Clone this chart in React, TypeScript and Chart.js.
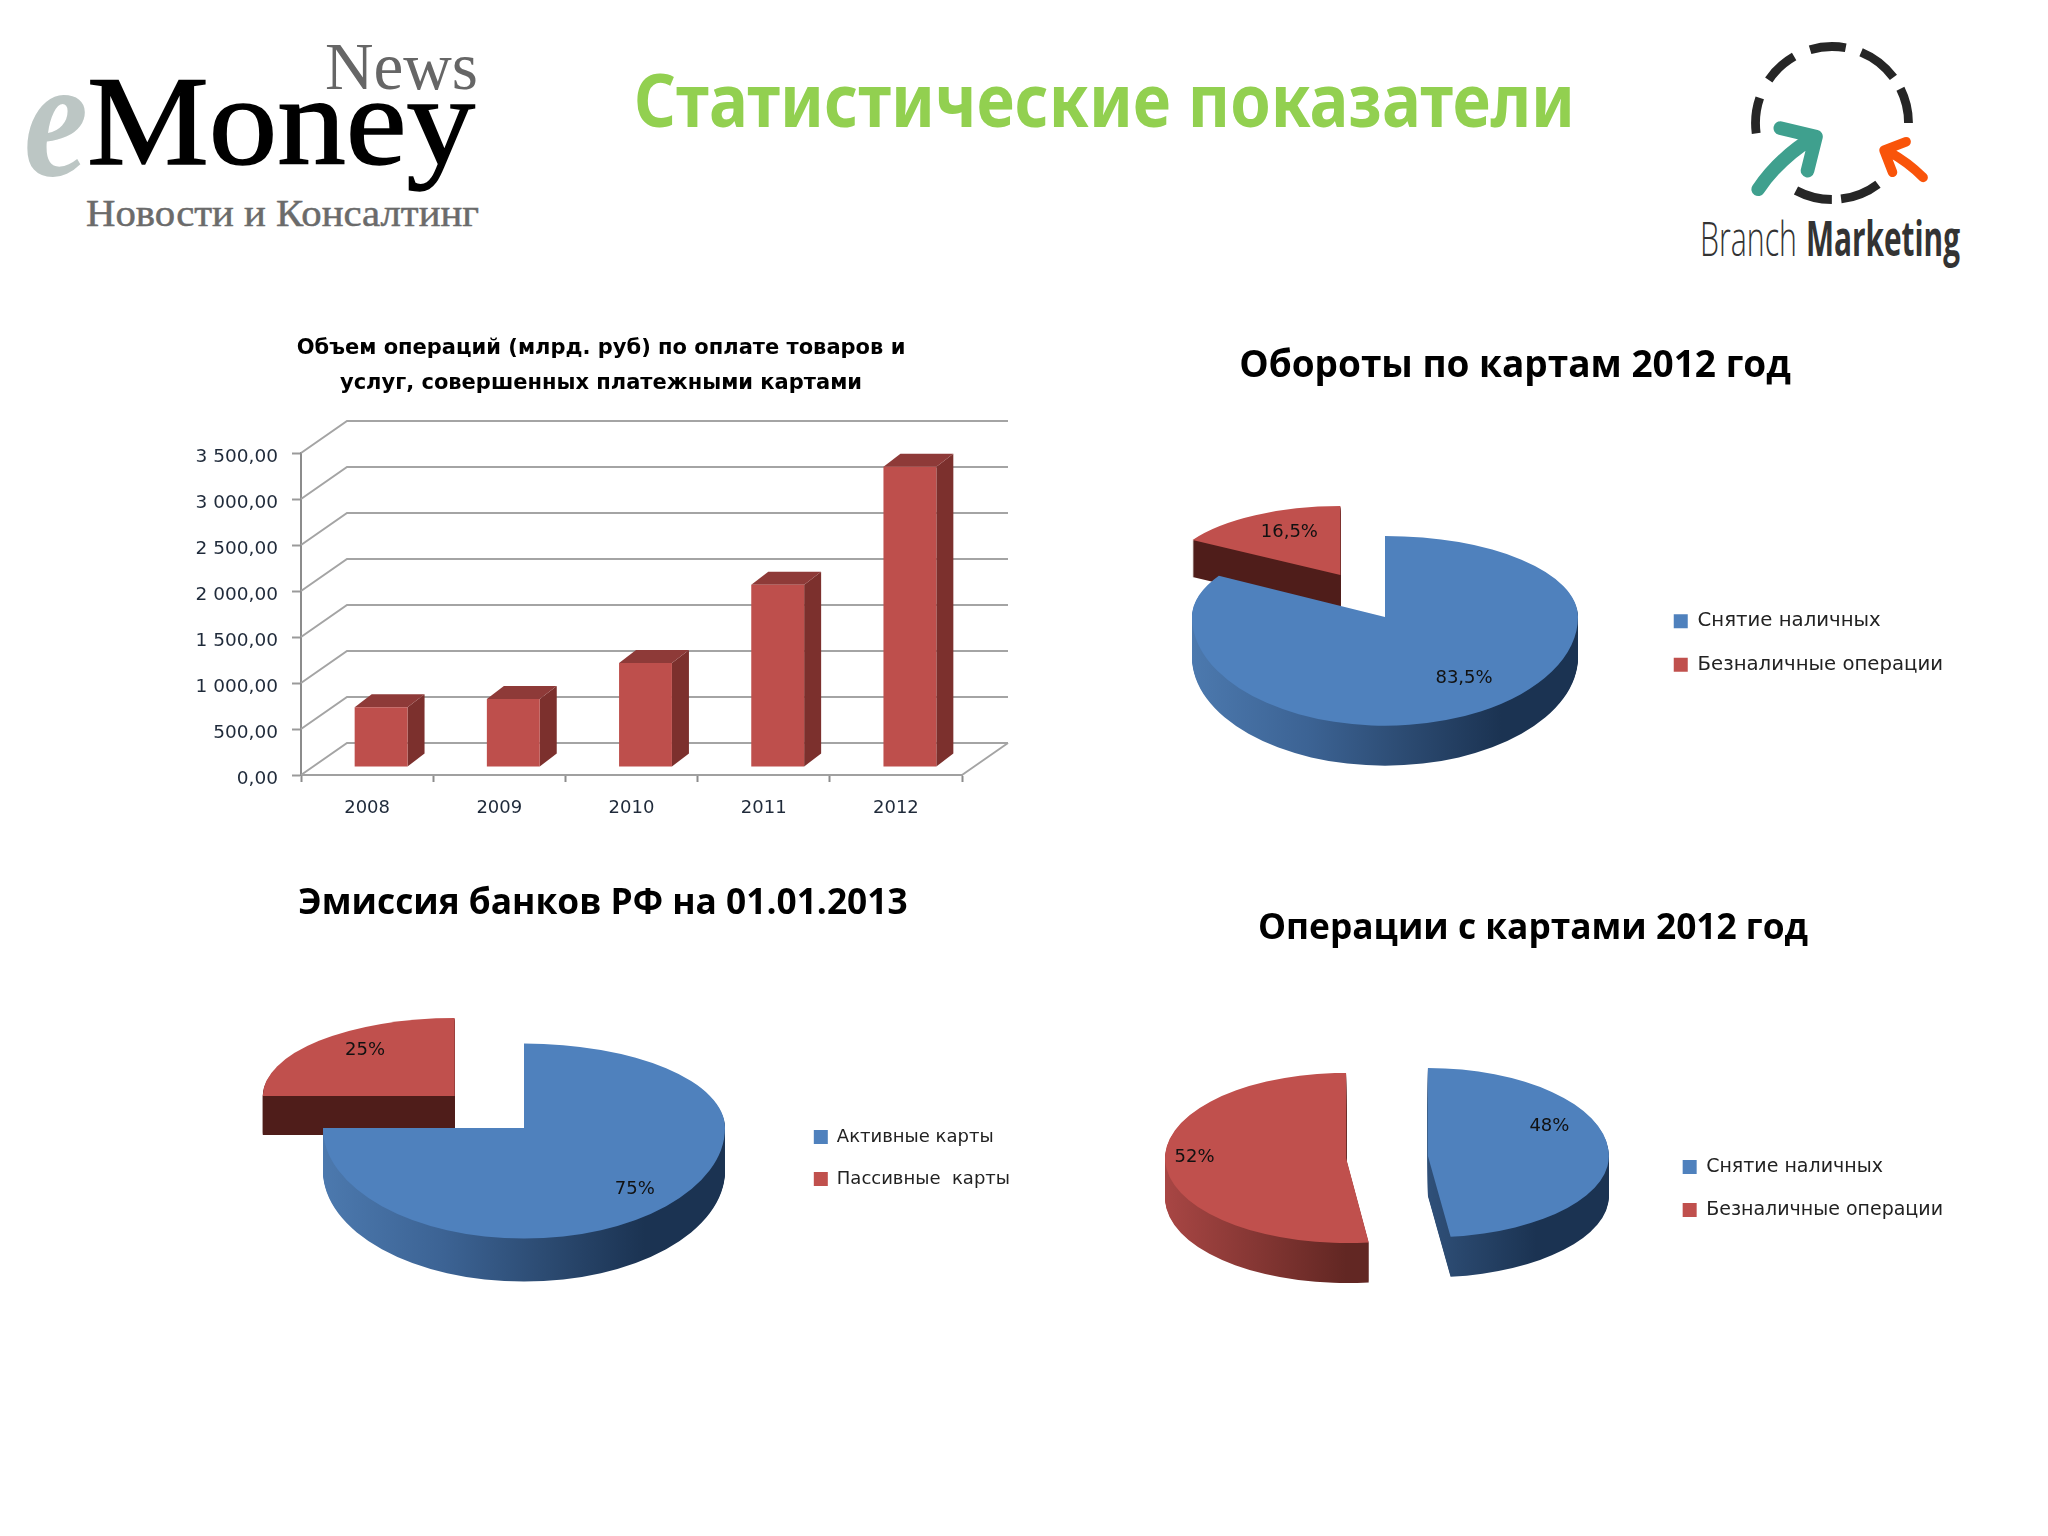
import { useEffect, useRef } from "react";
import { Chart, registerables } from "chart.js";

Chart.register(...registerables);

const BLUE = "#4F81BD";
const RED = "#C0504D";

const years = ["2008", "2009", "2010", "2011", "2012"];
const volumes = [650, 740, 1130, 1980, 3265];

const turnoverLabels = ["Снятие наличных", "Безналичные операции"];
const turnoverValues = [83.5, 16.5];

const emissionLabels = ["Активные карты", "Пассивные  карты"];
const emissionValues = [75, 25];

const operationLabels = ["Снятие наличных", "Безналичные операции"];
const operationValues = [48, 52];

const blueWall = [
  [0, "#4C79AE"],
  [0.3, "#3C6394"],
  [0.55, "#2C4B72"],
  [0.8, "#1B3352"],
  [1, "#1B3352"],
];
const darkRedWall = [
  [0, "#4F1D1A"],
  [1, "#4F1D1A"],
];
const redWall = [
  [0, "#A84644"],
  [0.5, "#622723"],
  [1, "#622723"],
];

const pctText = (v: number) => String(v).replace(".", ",") + "%";

// fake 3d for the pies: squash the arcs (back half flatter than the front, for
// perspective) and stack copies below them as a wall
function makePie3d(cfg: any) {
  const place = (chart: any, i: number) => {
    const el = chart.getDatasetMeta(0).data[i];
    const { x, y, startAngle, endAngle, outerRadius } = el.getProps(
      ["x", "y", "startAngle", "endAngle", "outerRadius"],
      true
    );
    const mid = (startAngle + endAngle) / 2;
    const s = cfg.slices[i];
    const off = s.explode || 0;
    return {
      el,
      x,
      y,
      mid,
      startAngle,
      endAngle,
      r: outerRadius,
      s,
      px: cfg.cx + Math.cos(mid) * off,
      py: Math.round(cfg.cy + Math.sin(mid) * off * cfg.k + (s.lift || 0)),
    };
  };
  const paint = (chart: any, p: any, down: number, fn: () => void) => {
    const ctx = chart.ctx;
    const split = p.py + down;
    [
      { k: p.s.back, top: 0, h: split },
      { k: p.s.front, top: split, h: chart.height - split },
    ].forEach((part) => {
      ctx.save();
      ctx.beginPath();
      ctx.rect(0, part.top, chart.width, part.h);
      ctx.clip();
      ctx.translate(p.px, split);
      ctx.scale(p.s.sx || 1, part.k);
      ctx.translate(-p.x, -p.y);
      fn();
      ctx.restore();
    });
  };
  return {
    id: "pie3d",
    beforeDatasetDraw(chart: any) {
      const ctx = chart.ctx;
      for (const i of cfg.order) {
        const p = place(chart, i);
        const grad = ctx.createLinearGradient(p.x - p.r, 0, p.x + p.r, 0);
        p.s.wall.forEach(([at, c]: any) => grad.addColorStop(at, c));
        for (let d = p.s.depth; d > 0; d--) {
          paint(chart, p, d, () => {
            ctx.beginPath();
            ctx.moveTo(p.x, p.y);
            ctx.arc(p.x, p.y, p.r, p.startAngle, p.endAngle);
            ctx.closePath();
            ctx.fillStyle = grad;
            ctx.fill();
          });
        }
        paint(chart, p, 0, () => p.el.draw(ctx));
      }
      return false;
    },
    afterDatasetsDraw(chart: any) {
      const ctx = chart.ctx;
      const values = chart.data.datasets[0].data;
      ctx.save();
      ctx.font = "18px 'DejaVu Sans'";
      ctx.fillStyle = "#111";
      ctx.textAlign = "center";
      ctx.textBaseline = "middle";
      values.forEach((v: number, i: number) => {
        const p = place(chart, i);
        const rr = p.r * p.s.label;
        const nudge = p.s.nudge || [0, 0];
        const sy = Math.sin(p.mid);
        ctx.fillText(
          pctText(v),
          p.px + Math.cos(p.mid) * rr * (p.s.sx || 1) + nudge[0],
          p.py + sy * rr * (sy < 0 ? p.s.back : p.s.front) + nudge[1]
        );
      });
      ctx.restore();
    },
  };
}

function pieConfig(title: string, titleSize: number, labels: string[], values: number[], radius: number, legendSize: number, plugin: any) {
  return {
    type: "pie",
    data: {
      labels,
      datasets: [
        {
          data: values,
          backgroundColor: [BLUE, RED],
          borderWidth: 0,
        },
      ],
    },
    options: {
      responsive: false,
      animation: false,
      radius,
      plugins: {
        title: {
          display: true,
          text: title,
          color: "#000",
          font: { family: "'Open Sans'", size: titleSize, weight: "bold", lineHeight: 1.4 },
          padding: { top: 0, bottom: 6 },
        },
        legend: {
          position: "right",
          labels: {
            boxWidth: 14,
            boxHeight: 14,
            padding: 24,
            color: "#222",
            font: { family: "'DejaVu Sans'", size: legendSize },
          },
        },
        tooltip: { enabled: false },
      },
    },
    plugins: [plugin],
  };
}

const DX = 46;
const DY = -32;
const BAR_DX = 14;
const BAR_DY = -8;
const SIDE_DX = 17;
const SIDE_DY = -13;

// back wall, floor and bar sides for the column chart
const bar3d = {
  id: "bar3d",
  afterLayout(chart: any) {
    // the axis box is narrow so the title centres right; labels are clipped to it otherwise
    chart.scales.y.left = 0;
  },
  beforeDatasetsDraw(chart: any) {
    const { ctx, chartArea, scales } = chart;
    ctx.save();
    ctx.strokeStyle = "#A4A4A4";
    ctx.lineWidth = 2;
    for (const t of scales.y.ticks) {
      const y = scales.y.getPixelForValue(t.value);
      ctx.beginPath();
      ctx.moveTo(chartArea.left, y);
      ctx.lineTo(chartArea.left + DX, y + DY);
      ctx.lineTo(chartArea.right + DX, y + DY);
      ctx.stroke();
    }
    ctx.beginPath();
    ctx.moveTo(chartArea.right, chartArea.bottom);
    ctx.lineTo(chartArea.right + DX, chartArea.bottom + DY);
    ctx.stroke();
    ctx.restore();
  },
  beforeDatasetDraw(chart: any) {
    const ctx = chart.ctx;
    chart.getDatasetMeta(0).data.forEach((bar: any) => {
      const { x, y, base, width } = bar.getProps(["x", "y", "base", "width"], true);
      const l = x - width / 2;
      const r = x + width / 2;
      ctx.save();
      ctx.translate(BAR_DX, BAR_DY);
      ctx.fillStyle = "#7C302D";
      ctx.beginPath();
      ctx.moveTo(r, y);
      ctx.lineTo(r + SIDE_DX, y + SIDE_DY);
      ctx.lineTo(r + SIDE_DX, base + SIDE_DY);
      ctx.lineTo(r, base);
      ctx.closePath();
      ctx.fill();
      ctx.fillStyle = "#8E3A38";
      ctx.beginPath();
      ctx.moveTo(l, y);
      ctx.lineTo(l + SIDE_DX, y + SIDE_DY);
      ctx.lineTo(r + SIDE_DX, y + SIDE_DY);
      ctx.lineTo(r, y);
      ctx.closePath();
      ctx.fill();
      bar.draw(ctx);
      ctx.restore();
    });
    return false;
  },
};

const barConfig = {
  type: "bar",
  data: {
    labels: years,
    datasets: [
      {
        data: volumes,
        backgroundColor: "#BE4F4C",
        barPercentage: 0.4,
        categoryPercentage: 1,
      },
    ],
  },
  options: {
    responsive: false,
    animation: false,
    layout: { padding: { left: 80, right: 84 } },
    plugins: {
      legend: { display: false },
      tooltip: { enabled: false },
      title: {
        display: true,
        text: [
          "Объем операций (млрд. руб) по оплате товаров и",
          "услуг, совершенных платежными картами",
        ],
        color: "#000",
        font: { family: "'DejaVu Sans'", size: 21, weight: "bold", lineHeight: 1.667 },
        padding: { top: 0, bottom: 52 },
      },
    },
    scales: {
      x: {
        afterFit: (s: any) => {
          s.height = 50;
        },
        grid: { drawOnChartArea: false, tickLength: 7, tickColor: "#8C8C8C", tickWidth: 2 },
        border: { color: "#A0A0A0", width: 2 },
        ticks: { color: "#1F2A3A", padding: 16, font: { family: "'DejaVu Sans'", size: 18 } },
      },
      y: {
        min: 0,
        max: 3500,
        afterFit: (s: any) => {
          s.width = 61;
        },
        grid: { drawOnChartArea: false, tickLength: 9, tickColor: "#9A9A9A", tickWidth: 2 },
        border: { color: "#8C8C8C", width: 2 },
        ticks: {
          stepSize: 500,
          color: "#1F2A3A",
          padding: 14,
          font: { family: "'DejaVu Sans'", size: 18.5, lineHeight: 0.4 },
          // empty first line drops the label a little below its tick, like in the source
          callback: (v: any) => ["", String(v).replace(/\B(?=(\d{3})+$)/g, " ") + ",00"],
        },
      },
    },
  },
  plugins: [bar3d],
};

const turnoverBox = { left: 1077, top: 341, width: 876, height: 604 };
const emissionBox = { left: 186, top: 879, width: 834, height: 558 };
const operationBox = { left: 1113, top: 904, width: 840, height: 569 };

const turnoverPie = pieConfig(
  "Обороты по картам 2012 год",
  37,
  turnoverLabels,
  turnoverValues,
  193,
  19.7,
  makePie3d({
    cx: 1385 - turnoverBox.left,
    cy: 617 - turnoverBox.top,
    k: 0.495,
    order: [1, 0],
    slices: [
      { wall: blueWall, depth: 40, back: 0.42, front: 0.563, label: 0.68, nudge: [14, -3] },
      { wall: darkRedWall, depth: 37, back: 0.357, front: 0.357, explode: 90, sx: 0.89, label: 0.6, lift: -3, nudge: [0, -7] },
    ],
  })
);

const emissionPie = pieConfig(
  "Эмиссия банков РФ на 01.01.2013",
  35.3,
  emissionLabels,
  emissionValues,
  201,
  18,
  makePie3d({
    cx: 524 - emissionBox.left,
    cy: 1128 - emissionBox.top,
    k: 0.488,
    order: [1, 0],
    slices: [
      { wall: blueWall, depth: 43, back: 0.42, front: 0.55, label: 0.78 },
      { wall: darkRedWall, depth: 39, back: 0.388, front: 0.388, explode: 98, sx: 0.955, label: 0.66, lift: 2, nudge: [0, -9] },
    ],
  })
);

const operationPie = pieConfig(
  "Операции с картами 2012 год",
  35.3,
  operationLabels,
  operationValues,
  181,
  19,
  makePie3d({
    cx: 1387 - operationBox.left,
    cy: 1157 - operationBox.top,
    k: 0.47,
    order: [1, 0],
    slices: [
      { wall: blueWall, depth: 40, back: 0.486, front: 0.45, explode: 41, label: 0.75, nudge: [-14, -26] },
      { wall: redWall, depth: 40, back: 0.47, front: 0.47, explode: 41, label: 0.8, nudge: [-7, -5] },
    ],
  })
);

function ChartBox({ config, left, top, width, height }: any) {
  const canvasRef = useRef<HTMLCanvasElement | null>(null);

  useEffect(() => {
    if (!canvasRef.current) return;
    const chart = new Chart(canvasRef.current, config);
    return () => chart.destroy();
  }, [config]);

  return (
    <canvas
      ref={canvasRef}
      width={width}
      height={height}
      style={{ position: "absolute", left, top, width, height }}
    />
  );
}

function Header() {
  const serif = "'Liberation Serif'";
  return (
    <svg width={2048} height={300} style={{ position: "absolute", left: 0, top: 0 }}>
      <text x={24} y={175} fontFamily={serif} fontStyle="italic" fontWeight="bold" fontSize={170} fill="#BCC6C4" textLength={64} lengthAdjust="spacingAndGlyphs">e</text>
      <text x={325} y={89} fontFamily={serif} fontSize={68} fill="#666" textLength={153} lengthAdjust="spacingAndGlyphs">News</text>
      <text x={87} y={164} fontFamily={serif} fontSize={128} fill="#000" stroke="#000" strokeWidth={1.5} textLength={388} lengthAdjust="spacingAndGlyphs">Money</text>
      <text x={86} y={226} fontFamily={serif} fontSize={38} fill="#6B6B6B" stroke="#6B6B6B" strokeWidth={0.5} textLength={393} lengthAdjust="spacingAndGlyphs">Новости и Консалтинг</text>

      <text x={634} y={127} fontFamily="'Noto Sans'" fontWeight="bold" fontSize={74} fill="#92D050" textLength={941} lengthAdjust="spacingAndGlyphs">Статистические показатели</text>

      <g transform="translate(1832,123) scale(0.34) translate(-392,-280)" fill="none">
        <circle cx={392} cy={280} r={225} stroke="#262626" strokeWidth={26} pathLength={360} strokeDasharray="27 12 31 10 27 53 30 7 28 54 27 15 26 13" strokeDashoffset={107} />
        <path d="M175 475 Q235 385 340 320 M240 295 L345 320 L320 420" stroke="#3FA08E" strokeWidth={40} strokeLinecap="round" strokeLinejoin="round" />
        <path d="M660 440 Q615 395 560 365 M610 335 L545 360 L570 425" stroke="#F9540A" strokeWidth={28} strokeLinecap="round" strokeLinejoin="round" />
      </g>
      <text x={1700} y={256} fontFamily="'Open Sans'" fontWeight={300} fontSize={48} fill="#333" textLength={97} lengthAdjust="spacingAndGlyphs">Branch</text>
      <text x={1806} y={256} fontFamily="'Open Sans'" fontWeight="bold" fontSize={48} fill="#333" textLength={154} lengthAdjust="spacingAndGlyphs">Marketing</text>
    </svg>
  );
}

export default function App() {
  return (
    <div style={{ position: "absolute", left: 0, top: 0, width: 2048, height: 1536, background: "#fff", overflow: "hidden" }}>
      <Header />
      <ChartBox config={barConfig} left={160} top={331} width={886} height={494} />
      <ChartBox config={turnoverPie} {...turnoverBox} />
      <ChartBox config={emissionPie} {...emissionBox} />
      <ChartBox config={operationPie} {...operationBox} />
    </div>
  );
}
